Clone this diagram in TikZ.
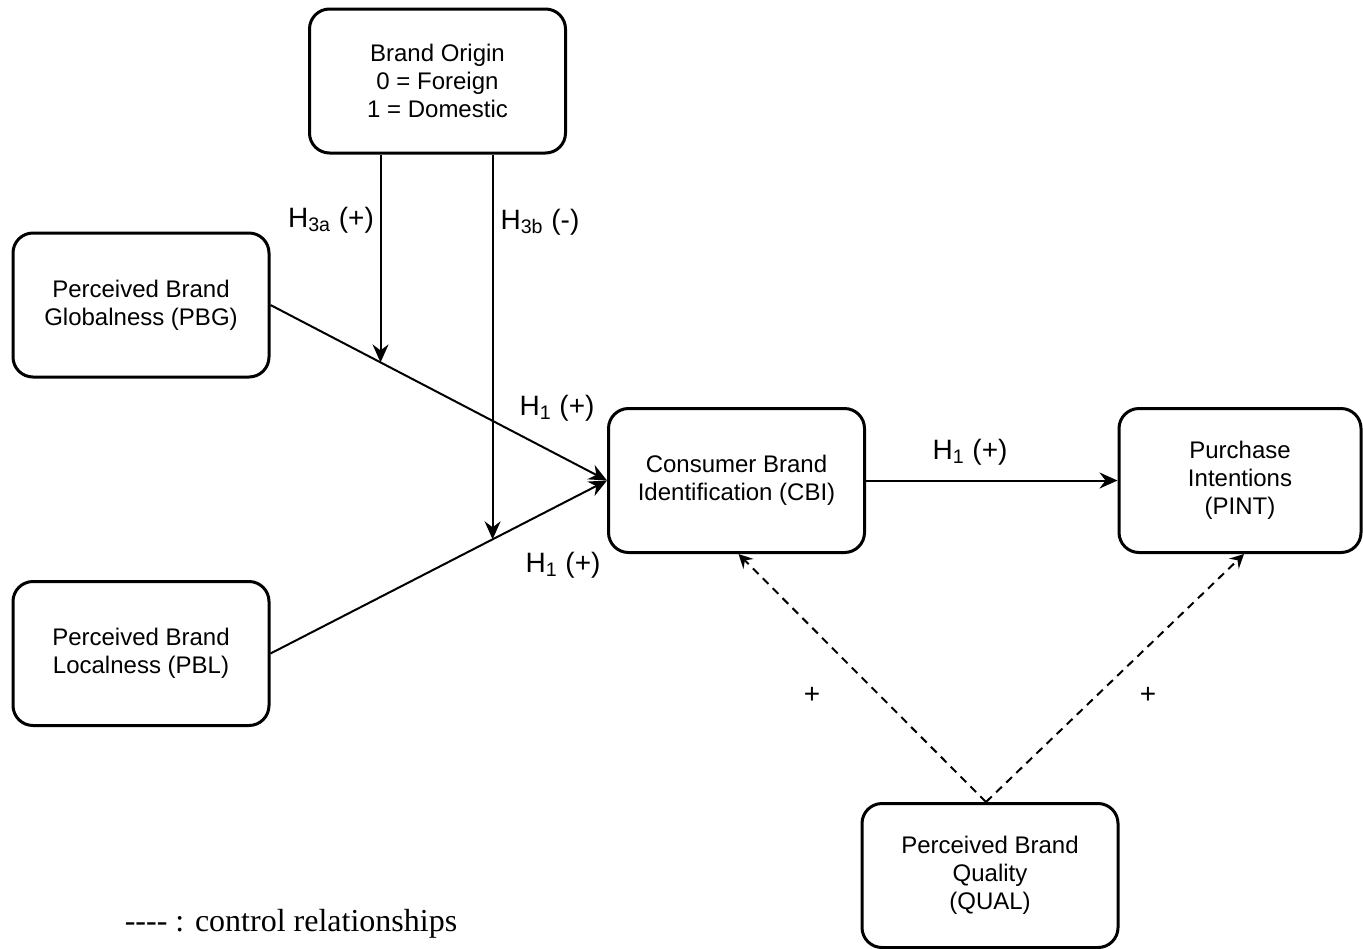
\documentclass[tikz,border=0pt]{standalone}
\usepackage{fontspec}
\setmainfont{Liberation Sans}
\newfontfamily\legendfont{Liberation Serif}
\usetikzlibrary{arrows.meta}

\tikzset{
  box/.style={draw,line width=1.5pt,rounded corners=10pt,minimum width=128pt,minimum height=72pt,align=center,font=\fontsize{12}{14}\selectfont,inner sep=2pt},
  arr/.style={line width=1pt,-{Stealth[length=9pt,width=8pt,inset=3pt]}},
  ctrl/.style={line width=1pt,dash pattern=on 4pt off 3pt,-{Stealth[length=7pt,width=7pt,inset=2.5pt]}},
  hyp/.style={font=\fontsize{14}{16}\selectfont}
}

\begin{document}
\begin{tikzpicture}[x=0.5pt,y=-0.5pt]
        \useasboundingbox (0,0) rectangle (1363,948);
        \node[box] (origin) at (437.5,81) {Brand Origin\\0 = Foreign\\1 = Domestic};
        \node[box] (pbg) at (141,305) {Perceived Brand\\Globalness (PBG)};
        \node[box] (pbl) at (141,653.5) {Perceived Brand\\Localness (PBL)};
        \node[box] (cbi) at (736.5,480.5) {Consumer Brand\\Identification (CBI)};
        \node[box,minimum width=121pt] (pint) at (1240,480.5) {Purchase\\Intentions\\(PINT)};
        \node[box] (qual) at (990,875.5) {Perceived Brand\\Quality\\(QUAL)};
        % main paths
        \draw[arr] (pbg.east) -- (cbi.west) coordinate[pos=0.327] (mod1);
        \draw[arr] (pbl.east) -- (cbi.west) coordinate[pos=0.66] (mod2);
        \draw[arr] (cbi) -- (pint);
        % moderation by brand origin
        \draw[arr] (origin.south -| mod1) -- (mod1);
        \draw[arr] (origin.south -| mod2) -- (mod2);
        % control paths
        \coordinate (top) at ([xshift=-2pt]qual.north);
        \draw[ctrl] (top) -- ([xshift=1pt]cbi.south);
        \draw[ctrl] (top) -- ([xshift=2pt]pint.south);
        \node[hyp] (h3a) at (331,220) {H\textsubscript{3a} (+)};
        \node[hyp] (h3b) at (540,222) {H\textsubscript{3b} (-)};
        \node[hyp] (h1a) at (557,408) {H\textsubscript{1} (+)};
        \node[hyp] (h1b) at (563,565) {H\textsubscript{1} (+)};
        \node[hyp] (h1c) at (970,452) {H\textsubscript{1} (+)};
        \node[hyp] (p1) at (812,695) {+};
        \node[hyp] (p2) at (1148,695) {+};
        \node[font=\legendfont\fontsize{16}{18}\selectfont] (legend) at (291,924) {-{}-{}-{}- : control relationships};
\end{tikzpicture}
\end{document}
